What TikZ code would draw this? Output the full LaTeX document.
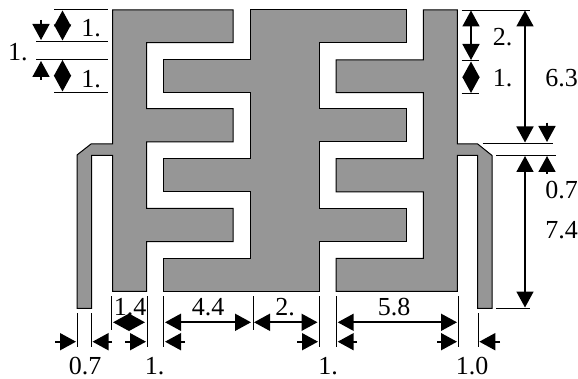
\documentclass[tikz,border=0pt]{standalone}
\usepackage{fontspec}
\setmainfont{Liberation Serif}
\usetikzlibrary{arrows.meta}
\definecolor{plate}{HTML}{969696}
\tikzset{
  metal/.style={fill=plate,draw=black,line width=1pt,line join=miter},
  ext/.style={draw=black,line width=0.9pt},
  dim/.style={draw=black,line width=1.7pt,{Triangle[length=16pt,width=17pt]}-{Triangle[length=16pt,width=17pt]}},
  one/.style={draw=black,line width=1.7pt,-{Triangle[length=16pt,width=17pt]}},
  lab/.style={inner sep=0pt,font=\fontsize{26}{26}\selectfont}
}
\begin{document}
\begin{tikzpicture}[x=1pt,y=-1pt]
\useasboundingbox (0,0) rectangle (578,379);
% left comb with lead
\path[metal] (112.5,10)--(233,10)--(233,42.7)--(146.5,42.7)--(146.5,108.7)--(233,108.7)--(233,142)--(146.5,142)--(146.5,208.3)--(233,208.3)--(233,241.7)--(146.5,241.7)--(146.5,291.3)--(112.5,291.3)--(112.5,155.5)--(91.5,155.5)--(91.5,308.3)--(77,308.3)--(77,155)--(91,144)--(112.5,144)--cycle;
% middle comb
\path[metal] (250,10)--(406,10)--(406,42.7)--(319,42.7)--(319,108.7)--(406,108.7)--(406,142)--(319,142)--(319,208.3)--(406,208.3)--(406,241.7)--(319,241.7)--(319,291.3)--(163.7,291.3)--(163.7,258.3)--(250,258.3)--(250,192)--(163.7,192)--(163.7,158.7)--(250,158.7)--(250,92.3)--(163.7,92.3)--(163.7,59.3)--(250,59.3)--cycle;
% right comb with lead
\path[metal] (423.3,10)--(457.3,10)--(457.3,144)--(477.7,144)--(492,155.5)--(492,308.3)--(477.7,308.3)--(477.7,155.5)--(457.3,155.5)--(457.3,291.3)--(336,291.3)--(336,258.3)--(423.3,258.3)--(423.3,192)--(336,192)--(336,158.7)--(423.3,158.7)--(423.3,92.7)--(336,92.7)--(336,60)--(423.3,60)--cycle;
% extension lines, left
\draw[ext] (54,9.7)--(108,9.7);
\draw[ext] (36,41)--(108,41);
\draw[ext] (36,59.5)--(108,59.5);
\draw[ext] (54,92)--(108,92);
% extension lines, right
\draw[ext] (461.5,10)--(530,10);
\draw[ext] (461.5,60.7)--(479,60.7);
\draw[ext] (461.5,93.5)--(479,93.5);
\draw[ext] (482.7,143)--(553,143);
\draw[ext] (496,155)--(555.7,155);
\draw[ext] (496,308)--(530,308);
% extension lines, bottom
\draw[ext] (77,313)--(77,346.7);
\draw[ext] (91.5,313)--(91.5,346.7);
\draw[ext] (111,296)--(111,330);
\draw[ext] (147.5,296)--(147.5,346.7);
\draw[ext] (163.7,296)--(163.7,346.7);
\draw[ext] (253,296)--(253,330);
\draw[ext] (319,296)--(319,346.7);
\draw[ext] (336.7,296)--(336.7,346.7);
\draw[ext] (458,296)--(458,346.7);
\draw[ext] (478.3,313)--(478.3,346.7);
% dimension arrows, left
\draw[dim] (62.5,10.5)--(62.5,40.5);
\draw[dim] (62.5,60)--(62.5,91.5);
\draw[one] (41,20)--(41,40);
\draw[one] (41,80)--(41,61);
% dimension arrows, right
\draw[dim] (471,10.5)--(471,60);
\draw[dim] (471,61.5)--(471,93);
\draw[dim] (525,10.5)--(525,142.5);
\draw[dim] (525,156)--(525,307.5);
\draw[one] (547,122.7)--(547,142);
\draw[one] (547,174)--(547,156);
% dimension arrows, bottom
\draw[dim] (113,322.3)--(145,322.3);
\draw[dim] (165,322.3)--(251,322.3);
\draw[dim] (254,322.3)--(317.5,322.3);
\draw[dim] (337.7,322.3)--(457,322.3);
\draw[one] (55,341.7)--(76,341.7);
\draw[one] (112,341.7)--(92.5,341.7);
\draw[one] (125,341.7)--(146,341.7);
\draw[one] (185,341.7)--(165,341.7);
\draw[one] (297,341.7)--(318,341.7);
\draw[one] (357,341.7)--(337.7,341.7);
\draw[one] (437,341.7)--(457,341.7);
\draw[one] (500,341.7)--(479.3,341.7);
% labels
\node[lab] (la) at (91,28) {1.};
\node[lab] (lb) at (91,79) {1.};
\node[lab] (lc) at (18,52) {1.};
\node[lab] (ra) at (502.5,37) {2.};
\node[lab] (rb) at (502.5,78) {1.};
\node[lab] (rc) at (561.5,78) {6.3};
\node[lab] (rd) at (561.5,190) {0.7};
\node[lab] (re) at (561.5,230) {7.4};
\node[lab] (ba) at (130,307) {1.4};
\node[lab] (bb) at (208,307) {4.4};
\node[lab] (bc) at (285,307) {2.};
\node[lab] (bd) at (394,307) {5.8};
\node[lab] (ca) at (85,366) {0.7};
\node[lab] (cb) at (154.5,366) {1.};
\node[lab] (cc) at (328,366) {1.};
\node[lab] (cd) at (472,366) {1.0};
\end{tikzpicture}
\end{document}
